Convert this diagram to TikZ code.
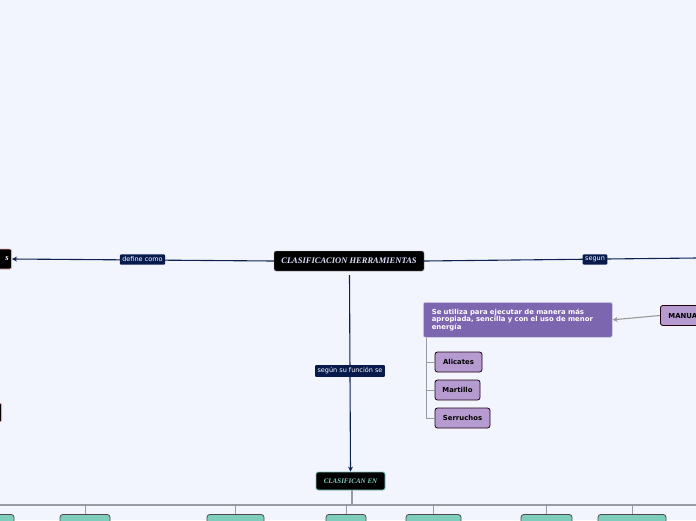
\documentclass[tikz,border=0pt]{standalone}
\usepackage{fontspec}
\setmainfont{Liberation Serif}
\setsansfont{DejaVu Sans}
\usetikzlibrary{arrows.meta}
\definecolor{bg}{HTML}{F3F5FE}
\definecolor{navy}{HTML}{0E2252}
\definecolor{lbl}{HTML}{061A4B}
\definecolor{purp}{HTML}{7D66B0}
\definecolor{lav}{HTML}{B69BD1}
\definecolor{tealc}{HTML}{7FCDBD}
\definecolor{grayline}{HTML}{9A9AA2}
\definecolor{pinkb}{HTML}{E7A9B4}
\tikzset{
  mainbox/.style={fill=black, draw=gray!70, rounded corners=2pt, text=white!88!blue,
    font=\bfseries\itshape\fontsize{8.5}{10}\selectfont, minimum width=150, minimum height=20, inner sep=0pt},
  lblbox/.style={fill=lbl, text=white, font=\sffamily\fontsize{6.5}{7.5}\selectfont,
    rounded corners=1pt, inner xsep=2.5pt, inner ysep=2.6pt},
  conn/.style={draw=navy, line width=1.1pt},
  leaf/.style={fill=lav, draw=black!85!purple, line width=0.8pt, rounded corners=2.5pt,
    font=\sffamily\bfseries\fontsize{6.9}{8}\selectfont, minimum height=20, inner sep=0pt},
  tealbox/.style={fill=tealc, draw=black!70, line width=0.8pt, rounded corners=3pt, minimum height=20, inner sep=0pt},
  treeline/.style={draw=grayline, line width=1.3pt},
  tick/.style={draw=grayline, line width=0.9pt},
}
\begin{document}
\begin{tikzpicture}[x=1pt,y=-1pt]
\useasboundingbox (0,0) rectangle (696,520);
\clip (0,0) rectangle (696,520);
\fill[bg] (0,0) rectangle (696,520);

% main node
\node[mainbox] (main) at (349,261) {CLASIFICACION HERRAMIENTAS};

% left cut node
\node[fill=black, draw=pinkb, line width=0.8pt, rounded corners=2pt, minimum height=20, text width=36, align=right,
  inner xsep=3pt, text=white, font=\bfseries\itshape\fontsize{8.5}{10}\selectfont, anchor=east] (leftn) at (12,259) {s};
% left pink cut node
\node[fill=black, draw=pinkb, line width=0.8pt, rounded corners=2pt, minimum height=19, minimum width=30, anchor=east] (pinkn) at (2,412.5) {};

% left connector
\draw[conn, -{Stealth[length=5pt,width=5pt]}] (main.west) -- (leftn.east);
\node[lblbox] (defl) at (142.5,259.5) {define como};

% right connector
\coordinate (rightend) at (697,258);
\draw[conn] (main.east) -- (rightend);
\node[lblbox] (segl) at (595,259.5) {segun};

% CLASIFICAN EN
\node[fill=black, draw=tealc, line width=0.8pt, rounded corners=2pt, minimum width=69, minimum height=18, inner sep=0pt,
  text=tealc, font=\bfseries\itshape\fontsize{7}{8}\selectfont] (clas) at (350.5,481) {CLASIFICAN EN};
\draw[conn, -{Stealth[length=5pt,width=5pt]}] (349.5,275) -- (clas.north);
\node[lblbox] (funl) at (350,371) {según su función se};

% MANUAL
\node[leaf, anchor=west, minimum width=60, text width=52, align=left, inner xsep=8pt] (manual) at (660,315.5) {MANUALES};
% description
\node[fill=purp, draw=white!70!purp, line width=0.6pt, rounded corners=2pt, anchor=north west, minimum width=189, minimum height=35,
  text width=172, inner xsep=6.5pt, inner ysep=4pt, align=left, text=white,
  font=\sffamily\bfseries\fontsize{6.9}{7.6}\selectfont] (desc) at (423,302)
  {Se utiliza para ejecutar de manera más apropiada, sencilla y con el uso de menor energía};
\draw[draw=gray!80, line width=1.1pt, -{Stealth[length=5pt,width=5pt]}] (manual.west) -- (desc.east);

% leaves
\node[leaf, minimum width=47] (ali) at (458.5,362) {Alicates};
\node[leaf, minimum width=45] (mar) at (457.5,390) {Martillo};
\node[leaf, minimum width=55] (ser) at (462.5,418) {Serruchos};
\coordinate (dtop) at (426,337.5);
\draw[tick] (dtop) -- (426,418) -- (ser.west);
\draw[tick] (426,362) -- (ali.west);
\draw[tick] (426,390) -- (mar.west);

% bottom teal nodes
\node[tealbox, anchor=north, minimum width=54] (t0) at (-13,514) {};
\node[tealbox, anchor=north, minimum width=50] (t1) at (85,514) {};
\node[tealbox, anchor=north, minimum width=57] (t2) at (235.5,514) {};
\node[tealbox, anchor=north, minimum width=40] (t3) at (346,514) {};
\node[tealbox, anchor=north, minimum width=55] (t4) at (433.5,514) {};
\node[tealbox, anchor=north, minimum width=51] (t5) at (546.5,514) {};
\node[tealbox, anchor=north, minimum width=68] (t6) at (632,514) {};

\coordinate (hl) at (-20,505);
\coordinate (hr) at (700,505);
\draw[treeline] (352,490) -- (352,505);
\draw[treeline] (hl) -- (hr);
\foreach \n in {t0,t1,t2,t3,t4,t5,t6} \draw[tick] (\n.north |- 0,505) -- (\n.north);
\end{tikzpicture}
\end{document}
